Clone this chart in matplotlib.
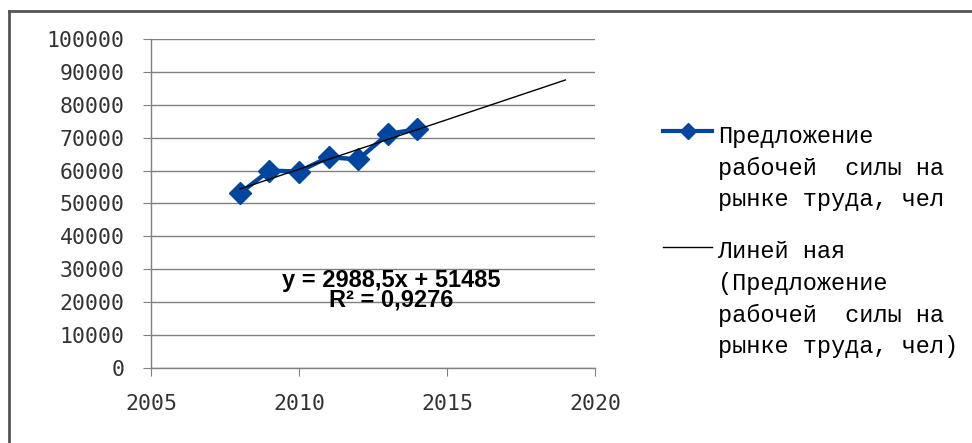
import matplotlib.pyplot as plt
import numpy as np
from matplotlib.lines import Line2D

years = [2008, 2009, 2010, 2011, 2012, 2013, 2014]
supply = [53100, 60000, 59700, 64100, 63400, 71100, 72600]
trend_years = [2008, 2019]

label_series = ['Предложение', 'рабочей  силы на', 'рынке труда, чел']
label_trend = ['Линей ная', '(Предложение', 'рабочей  силы на', 'рынке труда, чел)']
eq_text = 'y = 2988,5x + 51485\nR² = 0,9276'

blue = '#0046a0'
grey = '#808080'
W, H = 972, 443

fig = plt.figure(figsize=(W / 100, H / 100), dpi=100)
ax = fig.add_axes([151 / W, 1 - 368 / H, (595 - 151) / W, (368 - 39) / H])

ax.plot(years, supply, color=blue, linewidth=3.2, marker='D', markersize=11.5, zorder=3)

# linear trend fitted on the period index, extended forward
idx = np.arange(1, len(years) + 1)
k, b = np.polyfit(idx, supply, 1)
t_idx = np.array(trend_years) - years[0] + 1
ax.plot(trend_years, k * t_idx + b, color='black', linewidth=1.0, zorder=4)

ax.text(2013.1, 23600, eq_text, ha='center', va='center', fontsize=17,
        fontweight='bold', family='Liberation Sans', linespacing=0.8, zorder=5)

ax.set_xlim(2005, 2020)
ax.set_ylim(0, 100000)
ax.set_xticks([2005, 2010, 2015, 2020])
ax.set_yticks(range(0, 100001, 10000))
ax.grid(axis='y', color=grey, linewidth=1)
ax.set_axisbelow(True)
for s in ['top', 'right']:
    ax.spines[s].set_visible(False)
for s in ['left', 'bottom']:
    ax.spines[s].set_color(grey)
    ax.spines[s].set_linewidth(1)
ax.tick_params(axis='y', length=6, color=grey, pad=13, labelsize=15.5)
ax.tick_params(axis='x', length=6, color=grey, pad=13, labelsize=15.5)
for lab in ax.get_xticklabels() + ax.get_yticklabels():
    lab.set_family('DejaVu Sans Mono')
    lab.set_color('#333333')

# legend drawn by hand so the keys sit on the first text line
fs = 17
fig.add_artist(Line2D([663 / W, 712 / W], [1 - 131 / H] * 2, color=blue, linewidth=3))
fig.add_artist(Line2D([688 / W], [1 - 131 / H], color=blue, marker='D', markersize=8))
fig.add_artist(Line2D([663 / W, 712 / W], [1 - 247 / H] * 2, color='black', linewidth=1))
for i, line in enumerate(label_series):
    fig.text(718 / W, 1 - (136 + 32 * i) / H, line, fontsize=fs,
             family='Liberation Mono', va='center', ha='left')
for i, line in enumerate(label_trend):
    fig.text(718 / W, 1 - (252 + 31.5 * i) / H, line, fontsize=fs,
             family='Liberation Mono', va='center', ha='left')

# chart frame
fig.add_artist(Line2D([9 / W, 9 / W], [0, 1 - 11 / H], color='#555555', linewidth=2))
fig.add_artist(Line2D([9 / W, 1], [1 - 11 / H] * 2, color='#555555', linewidth=2))

fig.savefig('out.png', dpi=100)
